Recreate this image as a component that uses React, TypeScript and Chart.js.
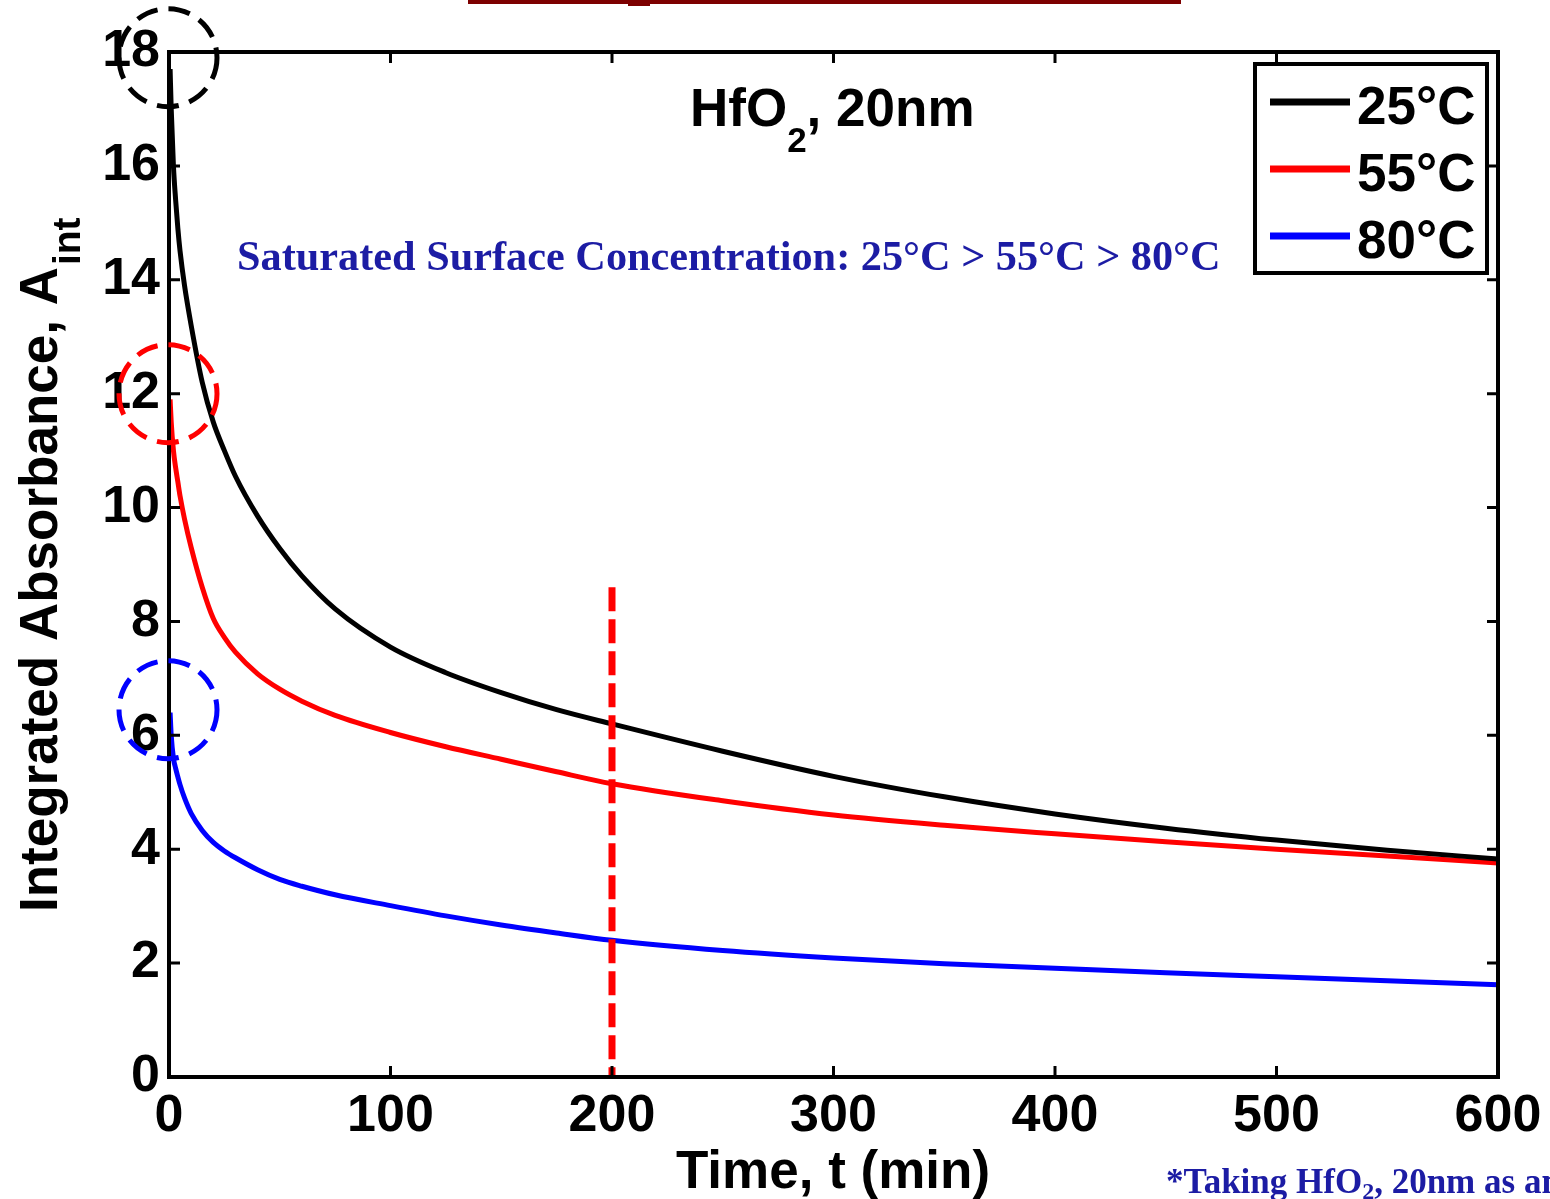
import React, { useEffect, useRef } from 'react';
import { Chart, registerables } from 'chart.js';

Chart.register(...registerables);

// ---- data ----
const times = [0.5, 1, 2, 3, 4, 5, 7, 10, 15, 20, 25, 30, 40, 50, 60, 75, 100, 125, 150, 175, 200, 250, 300, 350, 400, 450, 500, 550, 600];
const series25 = [17.7, 17.0, 16.0, 15.4, 14.9, 14.5, 13.9, 13.2, 12.2, 11.5, 11.0, 10.55, 9.85, 9.28, 8.8, 8.22, 7.55, 7.1, 6.75, 6.45, 6.2, 5.72, 5.28, 4.92, 4.62, 4.37, 4.16, 3.98, 3.83];
const series55 = [11.9, 11.5, 11.0, 10.7, 10.45, 10.2, 9.8, 9.3, 8.6, 8.05, 7.72, 7.46, 7.08, 6.81, 6.6, 6.35, 6.05, 5.8, 5.58, 5.36, 5.15, 4.85, 4.6, 4.42, 4.27, 4.13, 4.0, 3.88, 3.76];
const series80 = [6.4, 6.0, 5.6, 5.42, 5.27, 5.13, 4.9, 4.63, 4.33, 4.12, 3.97, 3.85, 3.64, 3.47, 3.35, 3.2, 3.01, 2.83, 2.67, 2.53, 2.4, 2.22, 2.09, 1.99, 1.91, 1.83, 1.76, 1.69, 1.62];
const seriesLabels = ['25°C', '55°C', '80°C'];
const seriesColors = ['#000000', '#ff0000', '#0000ff'];
const xTicks = [0, 100, 200, 300, 400, 500, 600];
const yTicks = [0, 2, 4, 6, 8, 10, 12, 14, 16, 18];
const circleCenters = [17.9, 12.0, 6.45];
const markerTime = 200;
const markerTop = 8.6;

const SANS = "'Liberation Sans', Arial, sans-serif";
const SERIF = "'Liberation Serif', 'Times New Roman', serif";
const NAVY = '#1c1ca4';

const decorPlugin = {
  id: 'decor',
  afterDraw(chart: any) {
    const { ctx, chartArea: a, scales } = chart;
    const x = scales.x;
    const y = scales.y;
    ctx.save();

    // top bar
    ctx.fillStyle = '#7d0000';
    ctx.fillRect(468, 0, 713, 4);
    ctx.fillRect(628, 0, 22, 6);

    // vertical dashed marker
    ctx.strokeStyle = '#ff0000';
    ctx.lineWidth = 7;
    ctx.setLineDash([24, 8]);
    const mx = x.getPixelForValue(markerTime);
    ctx.beginPath();
    ctx.moveTo(mx, y.getPixelForValue(markerTop));
    ctx.lineTo(mx, y.getPixelForValue(0));
    ctx.stroke();

    // axes box and inner ticks
    ctx.setLineDash([]);
    ctx.strokeStyle = '#000';
    ctx.lineWidth = 4;
    ctx.strokeRect(a.left, a.top, a.right - a.left, a.bottom - a.top);
    ctx.lineWidth = 3;
    const tl = 11;
    ctx.beginPath();
    xTicks.forEach((v) => {
      const px = x.getPixelForValue(v);
      ctx.moveTo(px, a.bottom);
      ctx.lineTo(px, a.bottom - tl);
      ctx.moveTo(px, a.top);
      ctx.lineTo(px, a.top + tl);
    });
    yTicks.forEach((v) => {
      const py = y.getPixelForValue(v);
      ctx.moveTo(a.left, py);
      ctx.lineTo(a.left + tl, py);
      ctx.moveTo(a.right, py);
      ctx.lineTo(a.right - tl, py);
    });
    ctx.stroke();

    // dashed circles
    ctx.lineWidth = 5;
    ctx.setLineDash([22, 11]);
    circleCenters.forEach((v, i) => {
      ctx.strokeStyle = seriesColors[i];
      ctx.beginPath();
      ctx.arc(x.getPixelForValue(0) - 1, y.getPixelForValue(v), 49, 0, Math.PI * 2);
      ctx.stroke();
    });
    ctx.setLineDash([]);

    // title HfO2, 20nm
    ctx.fillStyle = '#000';
    ctx.textBaseline = 'alphabetic';
    ctx.textAlign = 'left';
    let tx = 690;
    ctx.font = `bold 53px ${SANS}`;
    ctx.fillText('HfO', tx, 126);
    tx += ctx.measureText('HfO').width;
    ctx.font = `bold 35px ${SANS}`;
    ctx.fillText('2', tx, 152);
    tx += ctx.measureText('2').width;
    ctx.font = `bold 53px ${SANS}`;
    ctx.fillText(', 20nm', tx, 126);

    // annotation
    const ann = 'Saturated Surface Concentration: 25°C > 55°C > 80°C';
    ctx.font = `bold 40px ${SERIF}`;
    const w40 = ctx.measureText(ann).width;
    const fs = (40 * 983) / w40;
    ctx.font = `bold ${fs.toFixed(1)}px ${SERIF}`;
    ctx.fillStyle = NAVY;
    ctx.fillText(ann, 237, 270);

    // footnote
    ctx.font = `bold 35px ${SERIF}`;
    let fx = 1166;
    ctx.fillText('*Taking HfO', fx, 1193);
    fx += ctx.measureText('*Taking HfO').width;
    ctx.font = `bold 24px ${SERIF}`;
    ctx.fillText('2', fx, 1199);
    fx += ctx.measureText('2').width;
    ctx.font = `bold 35px ${SERIF}`;
    ctx.fillText(', 20nm as an example', fx, 1193);

    // axis titles
    ctx.fillStyle = '#000';
    ctx.font = `bold 53px ${SANS}`;
    ctx.textAlign = 'center';
    ctx.fillText('Time, t (min)', 833, 1188);

    ctx.save();
    ctx.translate(57, 912);
    ctx.rotate(-Math.PI / 2);
    ctx.textAlign = 'left';
    ctx.font = `bold 53px ${SANS}`;
    const main = 'Integrated Absorbance, A';
    ctx.fillText(main, 0, 0);
    const mw = ctx.measureText(main).width;
    ctx.font = `bold 39px ${SANS}`;
    ctx.fillText('int', mw + 2, 23);
    ctx.restore();

    // legend
    ctx.fillStyle = '#fff';
    ctx.fillRect(1255, 64, 232, 209);
    ctx.strokeStyle = '#000';
    ctx.lineWidth = 4;
    ctx.strokeRect(1255, 64, 232, 209);
    const ds = chart.data.datasets;
    ds.forEach((d: any, i: number) => {
      const ly = 102 + i * 67;
      ctx.strokeStyle = d.borderColor;
      ctx.lineWidth = 7;
      ctx.beginPath();
      ctx.moveTo(1270, ly);
      ctx.lineTo(1350, ly);
      ctx.stroke();
      ctx.fillStyle = '#000';
      ctx.font = `bold 53px ${SANS}`;
      ctx.textAlign = 'left';
      ctx.fillText(d.label, 1357, 124 + i * 67);
    });

    ctx.restore();
  },
};

export default function App() {
  const ref = useRef<HTMLCanvasElement | null>(null);
  useEffect(() => {
    if (!ref.current) return;
    const mk = (vals: number[]) => times.map((t, i) => ({ x: t, y: vals[i] }));
    const all = [series25, series55, series80];
    const chart = new Chart(ref.current, {
      type: 'line',
      data: {
        datasets: all.map((vals, i) => ({
          label: seriesLabels[i],
          data: mk(vals),
          borderColor: seriesColors[i],
          backgroundColor: seriesColors[i],
          borderWidth: 5,
          pointRadius: 0,
          cubicInterpolationMode: 'monotone' as const,
          fill: false,
        })),
      },
      options: {
        responsive: false,
        animation: false,
        devicePixelRatio: 1,
        layout: { padding: { top: 52, right: 52, left: 0, bottom: 0 } },
        plugins: { legend: { display: false }, tooltip: { enabled: false } },
        scales: {
          x: {
            type: 'linear',
            min: 0,
            max: 600,
            afterBuildTicks: (s: any) => {
              s.ticks = xTicks.map((v) => ({ value: v }));
            },
            ticks: {
              color: '#000',
              font: { family: SANS, size: 52, weight: 'bold' },
              padding: 8,
              maxRotation: 0,
              autoSkip: false,
            },
            grid: { display: false, drawTicks: false },
            border: { display: false },
            afterFit: (s: any) => {
              s.height = 1199 - 1077;
            },
          },
          y: {
            type: 'linear',
            min: 0,
            max: 18,
            afterBuildTicks: (s: any) => {
              s.ticks = yTicks.map((v) => ({ value: v }));
            },
            ticks: {
              color: '#000',
              font: { family: SANS, size: 52, weight: 'bold' },
              padding: 9,
              autoSkip: false,
            },
            grid: { display: false, drawTicks: false },
            border: { display: false },
            afterFit: (s: any) => {
              s.width = 169;
            },
          },
        },
      },
      plugins: [decorPlugin],
    });
    return () => chart.destroy();
  }, []);
  return (
    <div style={{ position: 'absolute', left: 0, top: 0, width: 1550, height: 1199, background: '#fff' }}>
      <canvas ref={ref} width={1550} height={1199} style={{ display: 'block' }} />
    </div>
  );
}
